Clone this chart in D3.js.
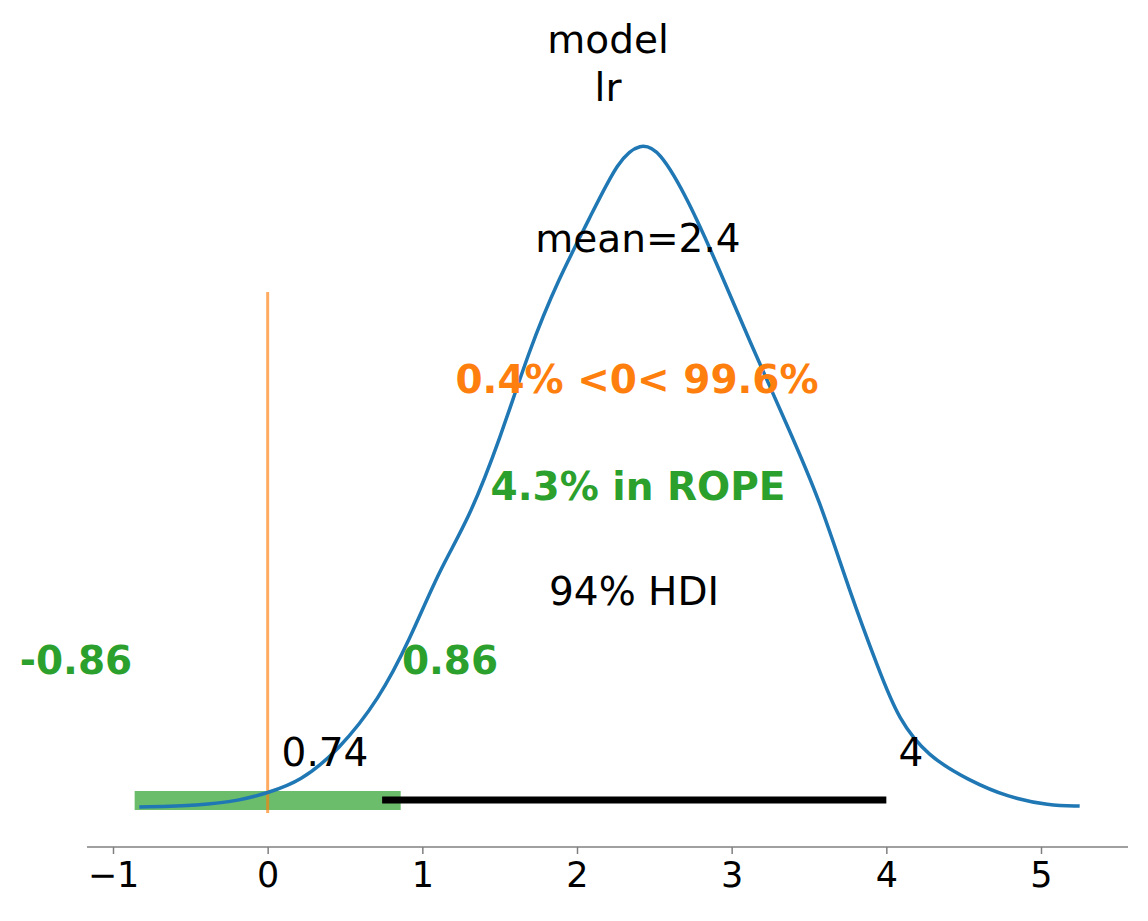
<!DOCTYPE html><html><head><meta charset="utf-8"><script src="https://cdn.jsdelivr.net/npm/d3@7"></script>
<style>body{margin:0;background:#fff}text{font-family:"DejaVu Sans",sans-serif}</style></head><body><svg width="1148" height="921"></svg>
<script>
const xs=[-0.83,-0.44,-0.18,0,0.21,0.46,0.72,0.92,1.11,1.30,1.50,1.69,1.88,2.08,2.27,2.41,2.53,2.72,2.92,3.11,3.37,3.57,3.76,3.95,4.08,4.27,4.53,4.79,5.05,5.25];
const dens=[0,0.001,0.004,0.009,0.016,0.036,0.068,0.106,0.150,0.182,0.232,0.289,0.334,0.372,0.410,0.420,0.416,0.384,0.340,0.296,0.239,0.194,0.137,0.087,0.055,0.032,0.017,0.006,0.001,0.0006];
const ticks=[-1,0,1,2,3,4,5];
const hdi=[0.74,4], rope=[-0.86,0.86], refVal=0, meanVal=2.4;
const svg=d3.select("svg");
const x=d3.scaleLinear().domain([-1,5]).range([113,1041]);
const y=d3.scaleLinear().domain([0,0.42]).range([807,143]);
const ax=svg.append("g").attr("transform","translate(0,847)").call(d3.axisBottom(x).tickValues(ticks).tickFormat(d=>d<0?"\u2212"+(-d):d).tickSize(7).tickPadding(8));
ax.select(".domain").attr("d","M87,0H1128").attr("stroke","#808080").attr("stroke-width",1.5);
ax.selectAll(".tick line").attr("stroke","#808080").attr("stroke-width",1.5);
ax.selectAll(".tick text").attr("font-size",35).attr("fill","#000").attr("font-family","DejaVu Sans");
svg.append("rect").attr("x",x(rope[0])).attr("width",x(rope[1])-x(rope[0])).attr("y",791).attr("height",19).attr("fill","#2ca02c").attr("opacity",0.7);
svg.append("line").attr("x1",x(hdi[0])).attr("x2",x(hdi[1])).attr("y1",800).attr("y2",800).attr("stroke","#000").attr("stroke-width",7);
svg.append("line").attr("x1",x(refVal)).attr("x2",x(refVal)).attr("y1",292).attr("y2",813).attr("stroke","#ff7f0e").attr("stroke-opacity",0.65).attr("stroke-width",3);
svg.append("path").datum(xs.map((v,i)=>[v,dens[i]])).attr("d",d3.line().x(d=>x(d[0])).y(d=>y(d[1])).curve(d3.curveBasis)).attr("fill","none").attr("stroke","#1f77b4").attr("stroke-width",3.5);
function t(s,X,Y,c,b,a){svg.append("text").attr("x",X).attr("y",Y).attr("text-anchor",a||"middle").attr("font-size",39).attr("fill",c||"#000").attr("font-weight",b?"bold":"normal").text(s);}
t("model",608,53);t("lr",608,101);
t("mean="+meanVal,638,252);
t("0.4% <0< 99.6%",637,393,"#ff7f0e",1);
t("4.3% in ROPE",638,500,"#2ca02c",1);
t("94% HDI",634,605);
t("-0.86",76,674,"#2ca02c",1);t("0.86",450,674,"#2ca02c",1);
t(String(hdi[0]),325,766);t("4",911,766);
</script></body></html>
